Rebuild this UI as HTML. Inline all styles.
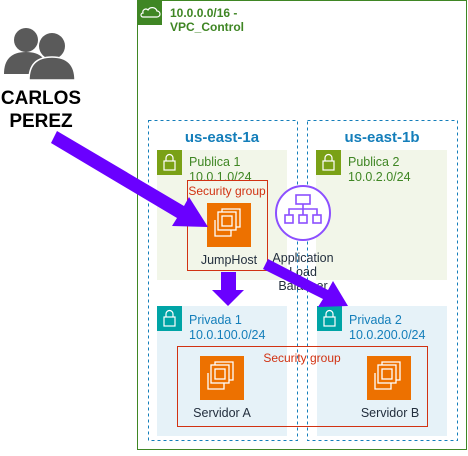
<!DOCTYPE html><html><head><style>body{margin:0;width:468px;height:451px;background:#fff;overflow:hidden}</style></head><body>
<svg width="468" height="451" xmlns="http://www.w3.org/2000/svg" font-family="Liberation Sans, sans-serif">
<rect x="137.5" y="0.5" width="329" height="449" fill="#fff" stroke="#3f8624"/>
<rect x="137" y="0" width="25" height="25" fill="#3f8624"/>
<path d="M143 17 h14 a3 3 0 0 0 0-6 a5 5 0 0 0-9-1 a3 3 0 0 0-5 3 a2 2 0 0 0 0 4z" fill="none" stroke="#fff" stroke-width="1.2"/>
<text x="170" y="17" font-size="12" font-weight="bold" fill="#3f8624">10.0.0.0/16 -</text>
<text x="170" y="31" font-size="12" font-weight="bold" fill="#3f8624">VPC_Control</text>
<rect x="148.5" y="120.5" width="149" height="320" fill="none" stroke="#147eba" stroke-dasharray="3,3"/>
<rect x="307.5" y="120.5" width="150" height="320" fill="none" stroke="#147eba" stroke-dasharray="3,3"/>
<text x="222" y="142" font-size="15" font-weight="bold" fill="#147eba" text-anchor="middle">us-east-1a</text>
<text x="382" y="142" font-size="15" font-weight="bold" fill="#147eba" text-anchor="middle">us-east-1b</text>
<rect x="157" y="150" width="130" height="130" fill="#f2f6e9"/>
<rect x="316" y="150" width="131" height="130" fill="#f2f6e9"/>
<rect x="157" y="306" width="130" height="130" fill="#e6f2f8"/>
<rect x="317" y="306" width="130" height="130" fill="#e6f2f8"/>
<g fill="#7aa116"><rect x="157" y="150" width="25" height="25"/><rect x="316" y="150" width="25" height="25"/></g>
<g fill="#00a4a6"><rect x="157" y="306" width="25" height="25"/><rect x="317" y="306" width="25" height="25"/></g>
<g fill="none" stroke="#fff" stroke-width="1.2">
<rect x="164" y="161" width="11" height="9"/><path d="M166 161v-3a3.5 3.5 0 0 1 7 0v3"/>
<rect x="323" y="161" width="11" height="9"/><path d="M325 161v-3a3.5 3.5 0 0 1 7 0v3"/>
<rect x="164" y="317" width="11" height="9"/><path d="M166 317v-3a3.5 3.5 0 0 1 7 0v3"/>
<rect x="324" y="317" width="11" height="9"/><path d="M326 317v-3a3.5 3.5 0 0 1 7 0v3"/>
</g>
<g font-size="12.5" fill="#3f8624"><text x="189" y="166">Publica 1</text><text x="189" y="181">10.0.1.0/24</text><text x="348" y="166">Publica 2</text><text x="348" y="181">10.0.2.0/24</text></g>
<g font-size="12.5" fill="#147eba"><text x="189" y="324">Privada 1</text><text x="189" y="339">10.0.100.0/24</text><text x="349" y="324">Privada 2</text><text x="349" y="339">10.0.200.0/24</text></g>
<rect x="187.5" y="180.5" width="80" height="90" fill="none" stroke="#d13212"/>
<text x="227" y="195" font-size="12" fill="#d13212" text-anchor="middle">Security group</text>
<rect x="177.5" y="346.5" width="250" height="80" fill="none" stroke="#d13212"/>
<text x="302" y="362" font-size="12" fill="#d13212" text-anchor="middle">Security group</text>
<g id="ec2"><rect x="207" y="203" width="44" height="44" fill="#ed7100"/>
<g fill="none" stroke="#fff" stroke-width="1.3"><rect x="218" y="212" width="18" height="18"/><path d="M222 212v-3h18v18h-4M215 220v16h16v-6"/><rect x="222" y="216" width="10" height="10"/></g></g>
<use href="#ec2" x="-7" y="153"/><use href="#ec2" x="160" y="153"/>
<g font-size="12.5" fill="#232f3e" text-anchor="middle"><text x="229" y="264">JumpHost</text><text x="222" y="417">Servidor A</text><text x="390" y="417">Servidor B</text>
<text x="303" y="262">Application</text><text x="303" y="276">Load</text><text x="303" y="290">Balancer</text></g>
<circle cx="303" cy="213" r="27" fill="#fff" stroke="#8c4fff" stroke-width="2"/>
<g fill="none" stroke="#8c4fff" stroke-width="1.6"><rect x="296" y="195" width="14" height="9"/><path d="M303 204v5M289 215v-6h28v6M303 209v6"/><rect x="285" y="215" width="8" height="8"/><rect x="299" y="215" width="8" height="8"/><rect x="313" y="215" width="8" height="8"/></g>
<g fill="#5a5a5a"><circle cx="26" cy="40" r="12"/><path d="M4 74 q0-22 22-22 q22 0 22 22z"/><circle cx="52" cy="46" r="13"/><path d="M29 80 q0-23 23-23 q23 0 23 23z" stroke="#fff" stroke-width="1.5"/></g>
<g font-size="19" font-weight="bold" fill="#000" text-anchor="middle"><text x="41" y="104">CARLOS</text><text x="41" y="127">PEREZ</text></g>
<g fill="#6a00ff">
<path d="M57 131 L184 206 L189 197 L208 227 L172 226 L177 218 L51 143z"/>
<path d="M221 272 h15 v18 h8 l-16 16 l-16-16 h9z"/>
<path d="M268 259 L328 290 L333 281 L348 306 L318 307 L323 299 L263 269z"/>
</g>
</svg></body></html>
